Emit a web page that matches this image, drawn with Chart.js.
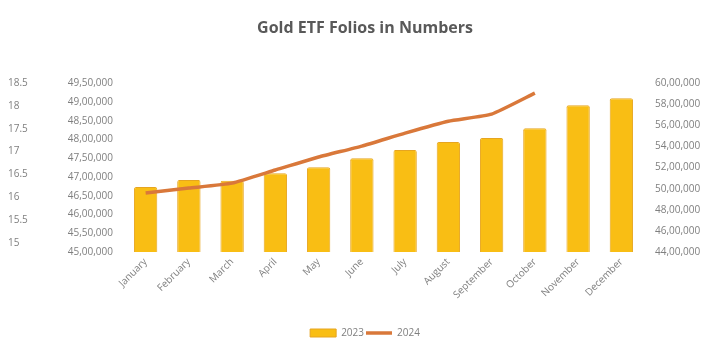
<!DOCTYPE html>
<html>
<head>
<meta charset="utf-8">
<script src="https://cdn.jsdelivr.net/npm/chart.js@4"></script>
<style>
  html, body { margin: 0; padding: 0; background: #ffffff; }
  #wrap { width: 722px; height: 342px; }
</style>
</head>
<body>
<div id="wrap"><canvas id="folios"></canvas></div>
<script>
const months = ['January', 'February', 'March', 'April', 'May', 'June',
  'July', 'August', 'September', 'October', 'November', 'December'];
const folios2023 = [4673000, 4692000, 4690000, 4710000, 4726000, 4750000,
  4772000, 4793000, 4804000, 4830000, 4891000, 4910000];
const folios2024 = [4959000, 5006000, 5053000, 5177000, 5300000, 5404000,
  5527000, 5640000, 5707000, 5906000];
const outerTicks = [15, 15.5, 16, 16.5, 17, 17.5, 18, 18.5];

// indian digit grouping: 49,50,000
function inr(v) {
  const s = Math.round(v).toString();
  const last3 = s.slice(-3);
  let rest = s.slice(0, -3);
  if (!rest) return last3;
  rest = rest.replace(/\B(?=(\d{2})+(?!\d))/g, ',');
  return rest + ',' + last3;
}

Chart.defaults.font.family = "'Open Sans', sans-serif";
Chart.defaults.font.size = 10;
Chart.defaults.color = '#7f7f7f';

const tickFont = { size: 10 };

new Chart(document.getElementById('folios'), {
  type: 'bar',
  data: {
    labels: months,
    datasets: [
      {
        label: '2023',
        data: folios2023,
        yAxisID: 'yBars',
        backgroundColor: '#F9BE14',
        borderColor: '#E6A520',
        borderWidth: 1,
        borderRadius: 2,
        barPercentage: 0.54,
        categoryPercentage: 1,
        pointStyle: 'rect',
        order: 2
      },
      {
        type: 'line',
        label: '2024',
        data: folios2024,
        yAxisID: 'yLine',
        borderColor: '#D9783A',
        backgroundColor: '#D9783A',
        borderWidth: 3.5,
        pointRadius: 0,
        pointStyle: 'line',
        tension: 0.15,
        order: 1
      }
    ]
  },
  options: {
    responsive: true,
    maintainAspectRatio: false,
    animation: false,
    layout: { padding: { left: 8, right: 0, top: 0, bottom: 0 } },
    plugins: {
      title: {
        display: true,
        text: 'Gold ETF Folios in Numbers',
        color: '#595959',
        font: { size: 16, weight: 'bold' },
        padding: { top: 19, bottom: 45 }
      },
      legend: {
        position: 'bottom',
        maxHeight: 16,
        labels: {
          usePointStyle: true,
          pointStyleWidth: 26,
          boxHeight: 8,
          padding: 2,
          color: '#7f7f7f',
          font: { size: 10 },
          sort: (a, b) => a.datasetIndex - b.datasetIndex
        }
      },
      tooltip: { enabled: false }
    },
    scales: {
      x: {
        grid: { display: false, drawTicks: false },
        border: { display: false },
        ticks: { minRotation: 45, maxRotation: 45, padding: 4, font: tickFont },
        afterFit: (s) => { s.height = 74; }
      },
      yOuter: {
        position: 'left',
        weight: 1,
        min: 14.8,
        max: 18.5,
        grid: { display: false, drawTicks: false },
        border: { display: false },
        afterBuildTicks: (s) => { s.ticks = outerTicks.map(v => ({ value: v })); },
        ticks: { crossAlign: 'far', font: tickFont, callback: (v) => String(v) },
        afterFit: (s) => { s.width = 52; }
      },
      yBars: {
        position: 'left',
        weight: 0,
        min: 4500000,
        max: 4950000,
        grid: { display: false, drawTicks: false },
        border: { display: false },
        ticks: { stepSize: 50000, padding: 11, font: tickFont, callback: (v) => inr(v) },
        afterFit: (s) => { s.width = 64; }
      },
      yLine: {
        position: 'right',
        min: 4400000,
        max: 6000000,
        grid: { display: false, drawTicks: false },
        border: { display: false },
        ticks: { stepSize: 200000, padding: 12, font: tickFont, callback: (v) => inr(v) },
        afterFit: (s) => { s.width = 79; }
      }
    }
  }
});
</script>
</body>
</html>
